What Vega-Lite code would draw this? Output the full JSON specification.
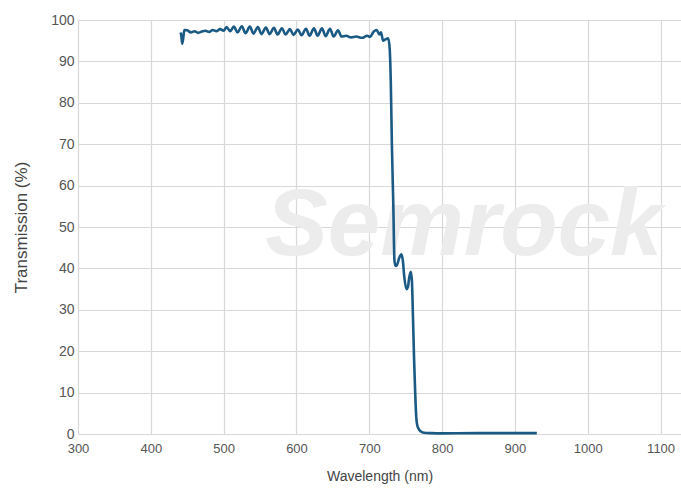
{
  "$schema": "https://vega.github.io/schema/vega-lite/v6.json",
  "autosize": {"type": "none"},
  "width": 603,
  "height": 414,
  "padding": {"left": 78, "top": 20, "right": 0, "bottom": 61},
  "background": "white",
  "config": {
    "view": {"stroke": null},
    "axis": {
      "domain": false,
      "ticks": false,
      "gridColor": "#d8d8d8",
      "gridWidth": 1.2,
      "labelFont": "Liberation Sans",
      "labelFontSize": 13,
      "labelColor": "#555555",
      "labelFlush": false,
      "labelOverlap": false,
      "titleFont": "Liberation Sans",
      "titleFontWeight": "normal",
      "titleColor": "#444444"
    }
  },
  "datasets": {
    "curve": [
      {"wl": 441, "t": 97.0}, {"wl": 442, "t": 96.0}, {"wl": 443, "t": 94.3}, {"wl": 444.5, "t": 95.6},
      {"wl": 446, "t": 97.6}, {"wl": 450, "t": 97.5}, {"wl": 455, "t": 97.0}, {"wl": 460, "t": 97.3},
      {"wl": 465, "t": 96.9}, {"wl": 470, "t": 97.2}, {"wl": 475, "t": 97.4}, {"wl": 480, "t": 97.1},
      {"wl": 485, "t": 97.6}, {"wl": 490, "t": 97.3}, {"wl": 495, "t": 97.8}, {"wl": 500, "t": 97.4},
      {"wl": 504, "t": 98.3}, {"wl": 509, "t": 97.3}, {"wl": 514, "t": 98.4}, {"wl": 519, "t": 97.0},
      {"wl": 525, "t": 98.5}, {"wl": 530, "t": 96.8}, {"wl": 536, "t": 98.4}, {"wl": 541, "t": 96.7},
      {"wl": 547, "t": 98.3}, {"wl": 552, "t": 96.6}, {"wl": 558, "t": 98.2}, {"wl": 563, "t": 96.6},
      {"wl": 569, "t": 98.1}, {"wl": 574, "t": 96.5}, {"wl": 580, "t": 98.0}, {"wl": 585, "t": 96.5},
      {"wl": 591, "t": 97.8}, {"wl": 596, "t": 96.4}, {"wl": 602, "t": 97.7}, {"wl": 607, "t": 96.3},
      {"wl": 613, "t": 97.9}, {"wl": 618, "t": 96.2}, {"wl": 624, "t": 98.0}, {"wl": 629, "t": 96.2},
      {"wl": 635, "t": 98.0}, {"wl": 640, "t": 96.1}, {"wl": 646, "t": 97.9}, {"wl": 651, "t": 96.0},
      {"wl": 657, "t": 97.5}, {"wl": 662, "t": 96.0}, {"wl": 668, "t": 96.2}, {"wl": 675, "t": 95.8},
      {"wl": 682, "t": 96.0}, {"wl": 690, "t": 95.7}, {"wl": 697, "t": 96.2}, {"wl": 701, "t": 95.9},
      {"wl": 706, "t": 97.2}, {"wl": 710, "t": 97.6}, {"wl": 714, "t": 96.5}, {"wl": 716, "t": 97.0},
      {"wl": 719, "t": 95.0}, {"wl": 722, "t": 95.3}, {"wl": 726, "t": 95.6}, {"wl": 728, "t": 93.0},
      {"wl": 729.5, "t": 85.0}, {"wl": 731, "t": 70.0}, {"wl": 733, "t": 55.0}, {"wl": 734.5, "t": 42.0},
      {"wl": 736, "t": 40.6}, {"wl": 738, "t": 40.8}, {"wl": 741, "t": 42.5}, {"wl": 744, "t": 43.4},
      {"wl": 746, "t": 42.0}, {"wl": 748, "t": 38.0}, {"wl": 751, "t": 35.0}, {"wl": 753, "t": 35.5},
      {"wl": 755, "t": 38.0}, {"wl": 757, "t": 39.2}, {"wl": 758.5, "t": 37.0}, {"wl": 760, "t": 28.0},
      {"wl": 761.5, "t": 18.0}, {"wl": 763, "t": 10.0}, {"wl": 764.5, "t": 4.0}, {"wl": 766, "t": 2.0},
      {"wl": 768, "t": 1.2}, {"wl": 771, "t": 0.6}, {"wl": 775, "t": 0.3}, {"wl": 785, "t": 0.2},
      {"wl": 800, "t": 0.15}, {"wl": 850, "t": 0.2}, {"wl": 900, "t": 0.2}, {"wl": 930, "t": 0.2}
    ],
    "mark": [{"wl": 557, "t": 43.2, "label": "Semrock"}]
  },
  "layer": [
    {
      "data": {"name": "mark"},
      "mark": {"type": "text", "align": "left", "baseline": "alphabetic", "font": "Liberation Sans", "fontSize": 94, "fontWeight": "bold", "fontStyle": "italic", "color": "#ececec"},
      "encoding": {
        "x": {"field": "wl", "type": "quantitative", "scale": {"domain": [300, 1128], "nice": false, "zero": false}},
        "y": {"field": "t", "type": "quantitative", "scale": {"domain": [0, 100]}},
        "text": {"field": "label"}
      }
    },
    {
      "data": {"name": "curve"},
      "mark": {"type": "line", "color": "#1b5a85", "strokeWidth": 2.6, "interpolate": "monotone"},
      "encoding": {
        "x": {"field": "wl", "type": "quantitative", "title": "Wavelength (nm)",
              "scale": {"domain": [300, 1128], "nice": false, "zero": false},
              "axis": {"values": [300, 400, 500, 600, 700, 800, 900, 1000, 1100], "format": "d", "labelPadding": 8, "titlePadding": 14, "titleFontSize": 14}},
        "y": {"field": "t", "type": "quantitative", "title": "Transmission (%)",
              "scale": {"domain": [0, 100]},
              "axis": {"values": [0, 10, 20, 30, 40, 50, 60, 70, 80, 90, 100], "labelPadding": 4, "titlePadding": 20, "titleFontSize": 17, "labelFontSize": 14}}
      }
    }
  ]
}
